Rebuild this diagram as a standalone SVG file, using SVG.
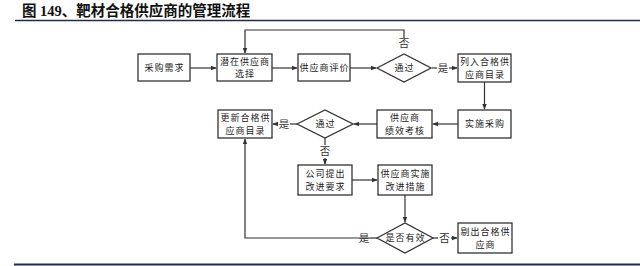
<svg xmlns="http://www.w3.org/2000/svg" width="640" height="266" viewBox="0 0 640 266">
<style>
.box{fill:#fff;stroke:#333;stroke-width:1.3}
.t{font-family:"Noto Sans CJK SC",sans-serif;font-size:9px;letter-spacing:1px;fill:#222;text-anchor:middle}
.lbl{font-family:"Noto Sans CJK SC",sans-serif;font-size:10.5px;fill:#333;text-anchor:middle}
.c{fill:none;stroke:#333;stroke-width:1.2}
</style>
<defs>
<marker id="a" viewBox="0 0 8 8" refX="7" refY="4" markerWidth="6" markerHeight="6" orient="auto" markerUnits="userSpaceOnUse">
<path d="M0,1 L8,4 L0,7 z" fill="#333"/>
</marker>
</defs>
<rect width="640" height="266" fill="#fff"/>
<text x="22" y="16" font-family="'Liberation Serif','Noto Sans CJK SC',serif" font-weight="bold" font-size="14.5" fill="#111">图 149、靶材合格供应商的管理流程</text>
<line x1="15" y1="20.5" x2="640" y2="20.5" stroke="#1f2d45" stroke-width="1.6"/>
<line x1="14" y1="264.5" x2="640" y2="264.5" stroke="#1f2d45" stroke-width="2"/>

<g id="connectors">
<line class="c" x1="190" y1="68" x2="216" y2="68" marker-end="url(#a)"/>
<line class="c" x1="272" y1="68" x2="297" y2="68" marker-end="url(#a)"/>
<line class="c" x1="350" y1="68" x2="376" y2="68" marker-end="url(#a)"/>
<polyline class="c" points="404,38 404,30 245,30 245,53" marker-end="url(#a)"/>
<line class="c" x1="432" y1="68" x2="437" y2="68"/>
<line class="c" x1="449" y1="68" x2="457" y2="68" marker-end="url(#a)"/>
<line class="c" x1="484.5" y1="82" x2="484.5" y2="109" marker-end="url(#a)"/>
<line class="c" x1="458" y1="124" x2="433" y2="124" marker-end="url(#a)"/>
<line class="c" x1="377" y1="124" x2="354" y2="124" marker-end="url(#a)"/>
<line class="c" x1="297" y1="124" x2="290" y2="124"/>
<line class="c" x1="278" y1="124" x2="273" y2="124" marker-end="url(#a)"/>
<line class="c" x1="325" y1="138" x2="325" y2="145"/>
<line class="c" x1="325" y1="158" x2="325" y2="164" marker-end="url(#a)"/>
<line class="c" x1="352" y1="180" x2="377" y2="180" marker-end="url(#a)"/>
<line class="c" x1="405" y1="195" x2="405" y2="222" marker-end="url(#a)"/>
<line class="c" x1="433" y1="238" x2="438" y2="238"/>
<line class="c" x1="451" y1="238" x2="457" y2="238" marker-end="url(#a)"/>
<polyline class="c" points="370,238 245,238 245,139" marker-end="url(#a)"/>
<line class="c" x1="377" y1="238" x2="370" y2="238"/>
<text class="lbl" x="404" y="47">否</text>
<text class="lbl" x="443" y="72">是</text>
<text class="lbl" x="284" y="128">是</text>
<text class="lbl" x="325" y="155">否</text>
<text class="lbl" x="364" y="242">是</text>
<text class="lbl" x="444.5" y="242">否</text>
</g>

<g id="n1"><rect class="box" x="138" y="54" width="52" height="27"/><text class="t" x="164.5" y="71">采购需求</text></g>
<g id="n2"><rect class="box" x="217" y="54" width="55" height="27"/><text class="t" x="245" y="64.5">潜在供应商</text><text class="t" x="245" y="77">选择</text></g>
<g id="n3"><rect class="box" x="298" y="54" width="52" height="27"/><text class="t" x="324.5" y="71">供应商评价</text></g>
<g id="d1"><polygon class="box" points="377,68 404,54 431,68 404,82"/><text class="t" x="404.5" y="71">通过</text></g>
<g id="n4"><rect class="box" x="458" y="54" width="53" height="28"/><text class="t" x="485" y="65">列入合格供</text><text class="t" x="485" y="77.5">应商目录</text></g>
<g id="n5"><rect class="box" x="458" y="110" width="53" height="28"/><text class="t" x="485" y="127">实施采购</text></g>
<g id="n6"><rect class="box" x="377" y="110" width="55" height="28"/><text class="t" x="405" y="121">供应商</text><text class="t" x="405" y="133.5">绩效考核</text></g>
<g id="d2"><polygon class="box" points="297,124 325,110 353,124 325,138"/><text class="t" x="325.5" y="127">通过</text></g>
<g id="n7"><rect class="box" x="218" y="110" width="54" height="28"/><text class="t" x="245.5" y="121">更新合格供</text><text class="t" x="245.5" y="133.5">应商目录</text></g>
<g id="n8"><rect class="box" x="298" y="165" width="54" height="30"/><text class="t" x="325.5" y="177">公司提出</text><text class="t" x="325.5" y="189.5">改进要求</text></g>
<g id="n9"><rect class="box" x="378" y="165" width="54" height="30"/><text class="t" x="405.5" y="177">供应商实施</text><text class="t" x="405.5" y="189.5">改进措施</text></g>
<g id="d3"><polygon class="box" points="377,238 405,223 433,238 405,253"/><text class="t" x="405.5" y="241">是否有效</text></g>
<g id="n10"><rect class="box" x="458" y="223" width="54" height="30"/><text class="t" x="485.5" y="235">剔出合格供</text><text class="t" x="485.5" y="247.5">应商</text></g>
</svg>
